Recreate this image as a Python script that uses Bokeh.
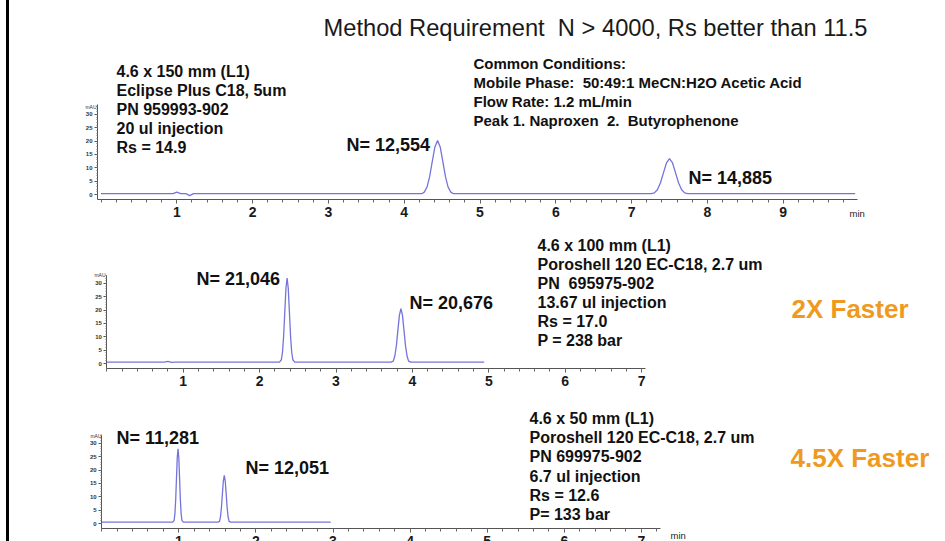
from bokeh.plotting import figure
from bokeh.models import Range1d, LinearAxis, FixedTicker, Label
from bokeh.layouts import column
from bokeh.embed import file_html
from bokeh.resources import INLINE

# ---------------- data ----------------
# Panel 1: 4.6 x 150 mm Eclipse Plus C18
t1 = [0.0, 0.95, 1.0, 1.05, 1.12, 1.17, 1.22,
      4.23, 4.265, 4.30, 4.335, 4.37, 4.405, 4.44, 4.475, 4.51, 4.545, 4.58, 4.615, 4.65,
      7.26, 7.30, 7.34, 7.38, 7.42, 7.46, 7.50, 7.54, 7.58, 7.62, 7.66, 7.70, 7.74,
      9.95]
a1 = [0.3, 0.3, 0.9, 0.3, 0.3, -0.4, 0.3,
      0.3, 0.9, 2.7, 6.6, 12.3, 17.8, 20.2, 17.8, 12.3, 6.6, 2.7, 0.9, 0.3,
      0.3, 0.6, 1.8, 4.3, 8.1, 11.8, 13.4, 11.8, 8.1, 4.3, 1.8, 0.6, 0.3,
      0.3]

# Panel 2: 4.6 x 100 mm Poroshell 120 EC-C18
t2 = [0.0, 0.75, 0.80, 0.85, 0.90,
      2.26, 2.285, 2.30, 2.315, 2.33, 2.345, 2.36, 2.375, 2.39, 2.405, 2.42, 2.435, 2.46,
      3.72, 3.75, 3.77, 3.79, 3.81, 3.83, 3.85, 3.87, 3.89, 3.91, 3.93, 3.95, 3.98,
      4.94]
a2 = [0.5, 0.5, 0.8, 0.4, 0.5,
      0.5, 1.4, 4.3, 10.4, 19.4, 28.2, 32.0, 28.2, 19.4, 10.4, 4.3, 1.4, 0.5,
      0.5, 0.9, 2.8, 6.6, 12.4, 18.1, 20.5, 18.1, 12.4, 6.6, 2.8, 0.9, 0.5,
      0.5]

# Panel 3: 4.6 x 50 mm Poroshell 120 EC-C18
t3 = [0.0, 0.92, 0.94, 0.95, 0.96, 0.97, 0.98, 0.99, 1.00, 1.01, 1.02, 1.03, 1.04, 1.06,
      1.505, 1.5275, 1.54, 1.5525, 1.565, 1.5775, 1.59, 1.6025, 1.615, 1.6275, 1.64, 1.6525, 1.675,
      2.97]
a3 = [0.5, 0.5, 1.2, 3.8, 9.1, 17.0, 24.7, 28.0, 24.7, 17.0, 9.1, 3.8, 1.2, 0.5,
      0.5, 0.8, 2.4, 5.8, 10.9, 15.9, 18.0, 15.9, 10.9, 5.8, 2.4, 0.8, 0.5,
      0.5]

x_ticks_1 = [1, 2, 3, 4, 5, 6, 7, 8, 9]
x_ticks_23 = [1, 2, 3, 4, 5, 6, 7]
y_ticks = [0, 5, 10, 15, 20, 25, 30]

title_text = "Method Requirement\u00a0 N > 4000, Rs better than 11.5"
block1 = ["4.6 x 150 mm (L1)", "Eclipse Plus C18, 5um", "PN 959993-902",
          "20 ul injection", "Rs = 14.9"]
common = ["Common Conditions:", "Mobile Phase:\u00a0 50:49:1 MeCN:H2O Acetic Acid",
          "Flow Rate: 1.2 mL/min", "Peak 1. Naproxen\u00a0 2.\u00a0 Butyrophenone"]
block2 = ["4.6 x 100 mm (L1)", "Poroshell 120 EC-C18, 2.7 um", "PN\u00a0 695975-902",
          "13.67 ul injection", "Rs = 17.0", "P = 238 bar"]
block3 = ["4.6 x 50 mm (L1)", "Poroshell 120 EC-C18, 2.7 um", "PN 699975-902",
          "6.7 ul injection", "Rs = 12.6", "P= 133 bar"]
n_labels_1 = ["N= 12,554", "N= 14,885"]
n_labels_2 = ["N= 21,046", "N= 20,676"]
n_labels_3 = ["N= 11,281", "N= 12,051"]
speed_2 = "2X Faster"
speed_3 = "4.5X Faster"

FONT = "Liberation Sans"
TRACE = "#7474DA"
ORANGE = "#EF9A1E"
INK = "#111111"

OFF = 9          # left edge of the figures (slide border to the left)
FIG_W = 945 - OFF


def make_panel(top, h, x0, ppm, base, ppa, xt, xbounds, ybounds, yloc, t, a):
    dx = lambda px: (px - x0) / ppm
    dy = lambda py: (base - py) / ppa
    p = figure(width=FIG_W, height=h, output_backend="svg", toolbar_location=None,
               x_range=Range1d(dx(OFF), dx(945)), y_range=Range1d(dy(top + h), dy(top)),
               x_axis_type=None, y_axis_type=None, min_border=0, tools="")
    p.outline_line_color = None
    p.background_fill_color = "white"
    p.border_fill_color = "white"

    xminor = [round(i * 0.2, 2) for i in range(0, int(xbounds[1] / 0.2) + 1)]
    xa = LinearAxis(fixed_location=-2, bounds=xbounds,
                    ticker=FixedTicker(ticks=xt, minor_ticks=xminor))
    xa.axis_line_color = "#555555"
    xa.major_tick_line_color = "#555555"
    xa.minor_tick_line_color = "#666666"
    xa.major_tick_out = 4
    xa.major_tick_in = 0
    xa.minor_tick_out = 3
    xa.minor_tick_in = 0
    xa.major_label_standoff = 3
    xa.major_label_text_font = FONT
    xa.major_label_text_font_style = "bold"
    xa.major_label_text_font_size = "14px"
    xa.major_label_text_color = "#1a1a1a"
    p.add_layout(xa, "below")

    ya = LinearAxis(fixed_location=yloc, bounds=ybounds,
                    ticker=FixedTicker(ticks=y_ticks, minor_ticks=list(range(0, 34))))
    ya.axis_line_color = "#555555"
    ya.major_tick_line_color = "#555555"
    ya.minor_tick_line_color = "#777777"
    ya.major_tick_out = 3
    ya.major_tick_in = 0
    ya.minor_tick_out = 1
    ya.minor_tick_in = 0
    ya.major_label_standoff = 2
    ya.major_label_text_font = FONT
    ya.major_label_text_font_style = "bold"
    ya.major_label_text_font_size = "6px"
    ya.major_label_text_color = "#333333"
    p.add_layout(ya, "left")

    p.line(t, a, line_color=TRACE, line_width=1.3)

    def label(text, px, py, size, style="bold", color=INK, align="left"):
        p.add_layout(Label(x=dx(px), y=dy(py), text=text, text_font=FONT,
                           text_font_size=size, text_font_style=style,
                           text_color=color, text_align=align,
                           text_baseline="middle"))

    return p, label


# ---------------- panel 1 ----------------
p1, L1 = make_panel(0, 220, 100.5, 75.8, 194, 2.67, x_ticks_1,
                    (-0.05, 9.98), (-2, 33.7), -0.046, t1, a1)
L1(title_text, 323, 27, "23.7px", style="normal", color="#1a1a1a")
for i, s in enumerate(block1):
    L1(s, 116, 71 + 19 * i, "16px")
for i, s in enumerate(common):
    L1(s, 473, 63 + 19 * i, "15px")
L1(n_labels_1[0], 346, 144, "18px")
L1(n_labels_1[1], 688, 177, "18px")
L1("mAU", 96, 106, "5px", style="normal", color="#333333", align="right")
L1("min", 849, 213, "9.5px", style="normal", color="#222222")

# ---------------- panel 2 ----------------
p2, L2 = make_panel(220, 178, 106.3, 76.4, 363, 2.67, x_ticks_23,
                    (0, 7.05), (-2, 33.0), 0.0, t2, a2)
for i, s in enumerate(block2):
    L2(s, 537, 245 + 19 * i, "16px")
L2(n_labels_2[0], 196, 278, "18px")
L2(n_labels_2[1], 409, 302, "18px")
L2(speed_2, 791, 308, "26px", color=ORANGE)
L2("mAU", 105, 274, "5px", style="normal", color="#333333", align="right")

# ---------------- panel 3 ----------------
p3, L3 = make_panel(398, 143, 101.2, 77.1, 523, 2.67, x_ticks_23,
                    (0, 7.25), (-2, 33.0), 0.0, t3, a3)
for i, s in enumerate(block3):
    L3(s, 529, 418 + 19.2 * i, "16px")
L3(n_labels_3[0], 116, 437, "18px")
L3(n_labels_3[1], 245, 467, "18px")
L3(speed_3, 790, 457, "26px", color=ORANGE)
L3("mAU", 101, 435, "5px", style="normal", color="#333333", align="right")
L3("min", 670, 535, "9.5px", style="normal", color="#222222")

layout = column(p1, p2, p3, spacing=0, margin=(0, 0, 0, 6),
                styles={"border-left": "3px solid #000000"})
open("out.html", "w").write(file_html(layout, INLINE))
